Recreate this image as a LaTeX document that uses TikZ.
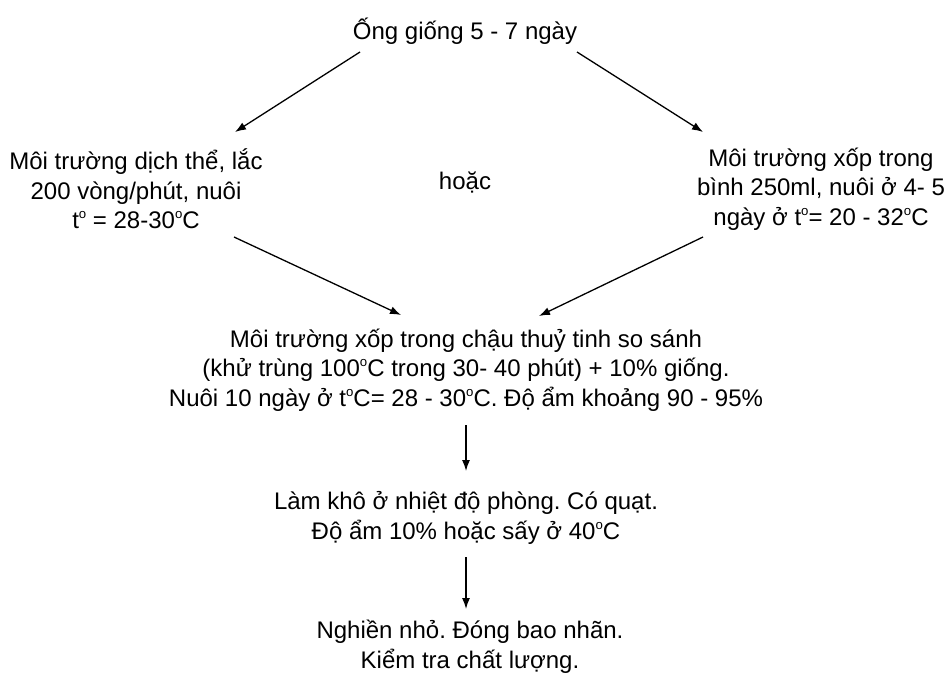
\documentclass[tikz,border=0pt]{standalone}
\usepackage{fontspec}
\setmainfont{Liberation Sans}
\usetikzlibrary{arrows.meta}
% small raised ring used for degrees
\newcommand{\dgr}{\raisebox{0.42em}{\scalebox{0.55}{o}}}
\frenchspacing
\begin{document}
\begin{tikzpicture}[x=1pt,y=-1pt,
  txt/.style={inner sep=0pt,align=center,font=\fontsize{24}{29.5}\selectfont},
  flow/.style={line width=1.3pt,-{Latex[length=11pt,width=8pt]}}]
\useasboundingbox (0,0) rectangle (944,674);

\node[txt] (top) at (465,31) {Ống giống 5 - 7 ngày};
\node[txt] (left) at (136,189) {Môi trường dịch thể, lắc\\200 vòng/phút, nuôi\\t\dgr{} = 28-30\dgr C};
\node[txt] (or) at (465,182) {hoặc};
\node[txt] (right) at (821,189) {Môi trường xốp trong\\bình 250ml, nuôi ở 4- 5\\ngày ở t\dgr= 20 - 32\dgr C};
\node[txt] (mid) at (466,370) {Môi trường xốp trong chậu thuỷ tinh so sánh\\(khử trùng 100\dgr C trong 30- 40 phút) + 10\% giống.\\Nuôi 10 ngày ở t\dgr C= 28 - 30\dgr C. Độ ẩm khoảng 90 - 95\%};
\node[txt] (dry) at (466,518) {Làm khô ở nhiệt độ phòng. Có quạt.\\Độ ẩm 10\% hoặc sấy ở 40\dgr C};
\node[txt] (end) at (470,647) {Nghiền nhỏ. Đóng bao nhãn.\\Kiểm tra chất lượng.};

% connector end points beside the text blocks
\coordinate (tl) at (360,52);
\coordinate (tr) at (577,52);
\coordinate (lt) at (235,132);
\coordinate (rt) at (703,132);
\coordinate (lb) at (234,237);
\coordinate (rb) at (703,237);
\coordinate (ml) at (401,315);
\coordinate (mr) at (539,316);
\coordinate (mb) at (466,425);
\coordinate (dt) at (466,471);
\coordinate (db) at (466,557);
\coordinate (et) at (466,609);

\draw[flow] (tl) -- (lt);
\draw[flow] (tr) -- (rt);
\draw[flow] (lb) -- (ml);
\draw[flow] (rb) -- (mr);
\draw[flow] (mb) -- (dt);
\draw[flow] (db) -- (et);
\end{tikzpicture}
\end{document}
